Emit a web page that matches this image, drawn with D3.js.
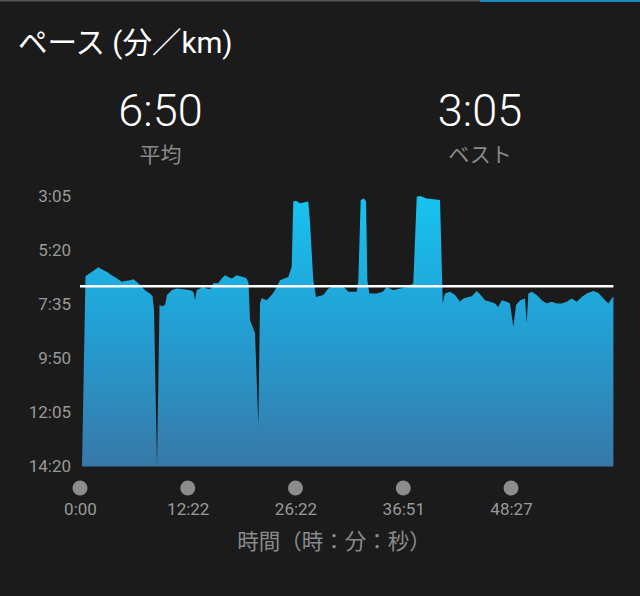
<!DOCTYPE html>
<html>
<head>
<meta charset="utf-8">
<script src="https://cdn.jsdelivr.net/npm/d3@7"></script>
<style>
html,body{margin:0;padding:0;background:#1b1b1b;}
svg{display:block;}
</style>
</head>
<body>
<svg id="chart" width="640" height="596"></svg>
<script>
// ---- data ----
const title = "ペース (分／km)";
const avgLabel = "平均";
const bestLabel = "ベスト";
const avgPace = 410;   // 6:50 in seconds
const bestPace = 185;  // 3:05 in seconds
const yTickValues = [185, 320, 455, 590, 725, 860];
const yTickLabels = ["3:05", "5:20", "7:35", "9:50", "12:05", "14:20"];
const xTickValues = [0, 2, 4, 6, 8];
const xTickLabels = ["0:00", "12:22", "26:22", "36:51", "48:27"];
const xTitle = "時間（時：分：秒）";
const distMax = 9.9;
const dist = [0.037,0.102,0.154,0.247,0.340,0.403,0.496,0.588,0.681,0.774,0.835,0.928,0.989,1.052,1.114,1.206,1.299,1.346,1.374,1.429,
1.476,1.522,1.578,1.615,1.702,1.795,1.917,2.042,2.103,2.135,2.166,2.227,2.289,2.352,2.413,2.474,2.567,2.630,2.691,2.753,
2.816,2.909,2.970,3.031,3.094,3.128,3.155,3.248,3.310,3.341,3.373,3.466,3.558,3.619,3.712,3.866,3.929,3.959,4.009,4.083,
4.237,4.269,4.330,4.380,4.516,4.609,4.765,4.887,4.980,5.136,5.166,5.210,5.271,5.309,5.333,5.370,5.507,5.619,5.693,5.815,
5.940,6.094,6.186,6.250,6.311,6.435,6.558,6.682,6.732,6.775,6.868,6.961,7.053,7.115,7.208,7.271,7.363,7.425,7.517,7.610,
7.703,7.764,7.827,7.920,7.981,8.043,8.093,8.167,8.260,8.291,8.321,8.384,8.477,8.570,8.663,8.755,8.848,8.941,9.034,9.127,
9.219,9.312,9.405,9.528,9.621,9.714,9.807,9.888,9.900];
const pace = [860,385,380,372,363,368,374,383,390,399,397,395,393,399,407,420,428,435,470,860,
457,460,457,432,420,416,418,420,424,445,420,416,412,416,418,403,402,391,383,387,
391,383,385,387,391,402,495,527,757,453,440,445,432,420,395,387,362,199,197,203,
199,252,395,437,432,416,407,410,424,424,395,195,191,199,395,428,428,424,412,420,
416,412,403,187,185,191,193,195,453,428,424,432,449,441,437,435,422,430,445,449,
453,462,445,449,453,512,457,445,441,503,428,424,432,445,453,449,453,453,449,441,
449,437,428,422,427,441,453,437,437];

const fmt = s => Math.floor(s/60) + ":" + String(s%60).padStart(2,"0");

// ---- drawing ----
const svg = d3.select("#chart");
const W = 640, H = 596;
svg.append("rect").attr("width", W).attr("height", H).attr("fill", "#1b1b1b");

// top strip
svg.append("rect").attr("x",0).attr("y",0).attr("width",480).attr("height",1.5).attr("fill","#555555");
svg.append("rect").attr("x",480).attr("y",0).attr("width",160).attr("height",2).attr("fill","#1a8cc4");

const x = d3.scaleLinear().domain([0, distMax]).range([80, 613.4]);
const y = d3.scaleLinear().domain([185, 860]).range([196, 466.5]);

const font = "Roboto, 'Noto Sans CJK JP', sans-serif";

svg.append("text").attr("x", 18).attr("y", 53)
  .attr("font-family", font).attr("font-size", 29.5).attr("fill", "#ffffff")
  .text(title);

const stats = [{cx:160.5, val: fmt(avgPace), lab: avgLabel}, {cx:480, val: fmt(bestPace), lab: bestLabel}];
stats.forEach(s => {
  svg.append("text").attr("x", s.cx).attr("y", 126).attr("text-anchor","middle")
    .attr("font-family", font).attr("font-weight", 300).attr("font-size", 45).attr("fill","#ffffff")
    .text(s.val);
  svg.append("text").attr("x", s.cx).attr("y", 162).attr("text-anchor","middle")
    .attr("font-family", font).attr("font-size", 21).attr("fill","#8a8a8a")
    .text(s.lab);
});

// gradient
const defs = svg.append("defs");
const grad = defs.append("linearGradient").attr("id","paceGrad")
  .attr("gradientUnits","userSpaceOnUse").attr("x1",0).attr("x2",0)
  .attr("y1", y(185)).attr("y2", y(860));
grad.append("stop").attr("offset","0%").attr("stop-color","#17c3f0");
grad.append("stop").attr("offset","45%").attr("stop-color","#22a2d6");
grad.append("stop").attr("offset","100%").attr("stop-color","#3778a8");

const pts = dist.map((d,i) => ({d, p: pace[i]}));
const area = d3.area().x(d => x(d.d)).y0(y(860)).y1(d => y(d.p)).curve(d3.curveLinear);
svg.append("path").datum(pts).attr("d", area).attr("fill","url(#paceGrad)");

// average line
svg.append("line").attr("x1", x(0)).attr("x2", x(distMax))
  .attr("y1", y(avgPace)).attr("y2", y(avgPace))
  .attr("stroke","#ffffff").attr("stroke-width", 2.5);

// y axis
const yAxis = d3.axisLeft(y).tickValues(yTickValues).tickFormat((d,i) => yTickLabels[i]).tickSize(0).tickPadding(0);
const gy = svg.append("g").attr("transform","translate(71,0)").call(yAxis);
gy.select(".domain").remove();
gy.selectAll("text").attr("font-family", font).attr("font-size", 17).attr("fill","#999999");

// x axis
const xAxis = d3.axisBottom(x).tickValues(xTickValues).tickFormat((d,i) => xTickLabels[i]).tickSize(0).tickPadding(0);
const gx = svg.append("g").attr("transform","translate(0,503)").call(xAxis);
gx.select(".domain").remove();
gx.selectAll("text").attr("font-family", font).attr("font-size", 17).attr("fill","#999999");
svg.append("g").selectAll("circle").data(xTickValues).join("circle")
  .attr("cx", d => x(d)).attr("cy", 488).attr("r", 7.5).attr("fill","#8c8c8c");

svg.append("text").attr("x", 334).attr("y", 549).attr("text-anchor","middle")
  .attr("font-family", font).attr("font-size", 21.5).attr("fill","#8a8a8a")
  .text(xTitle);
</script>
</body>
</html>
